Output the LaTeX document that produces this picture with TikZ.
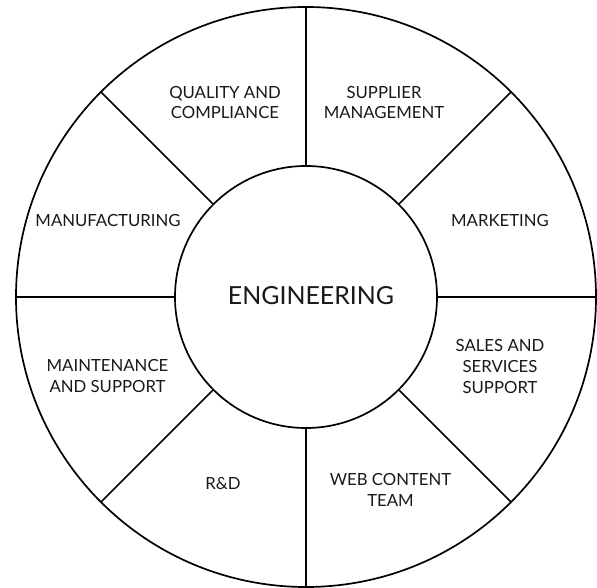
\documentclass[tikz,border=0pt]{standalone}
\usepackage{fontspec}
\setmainfont{Lato}
\begin{document}
\begin{tikzpicture}[x=1bp,y=1bp,
  ring/.style={circle,draw,line width=1.7bp,inner sep=0pt,outer sep=0pt},
  sector/.style={align=center,font=\fontsize{16.8}{21}\selectfont,text=black!90},
  spoke/.style={line width=1.5bp}]
\useasboundingbox (-306,-291) rectangle (291,297);

% Rings
\node[ring,minimum size=580bp] (rim) at (0,0) {};
\node[ring,minimum size=262bp] (hub) at (0,0) {};
\node[font=\fontsize{25}{30}\selectfont,text=black!90] (eng) at (5,1.5) {ENGINEERING};

% Spokes
\foreach \a in {0,45,...,315}
  \draw[spoke] (hub.\a) -- (rim.\a);

% Sector labels
\node[sector] (quality) at (-81,194.5) {QUALITY AND\\COMPLIANCE};
\node[sector] (supplier) at (78,194.5) {SUPPLIER\\MANAGEMENT};
\node[sector] (marketing) at (194,76) {MARKETING};
\node[sector] (manufacturing) at (-198,76) {MANUFACTURING};
\node[sector] (maintenance) at (-198.5,-79) {MAINTENANCE\\AND SUPPORT};
\node[sector] (sales) at (194,-69.5) {SALES AND\\SERVICES\\SUPPORT};
\node[sector] (rnd) at (-83,-187) {R\&D};
\node[sector] (web) at (84.5,-193) {WEB CONTENT\\TEAM};
\end{tikzpicture}
\end{document}
